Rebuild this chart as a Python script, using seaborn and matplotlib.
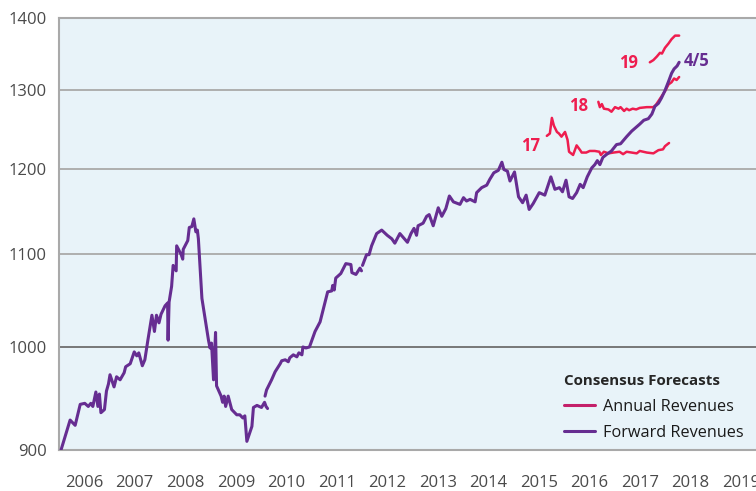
import numpy as np
import pandas as pd
import matplotlib
matplotlib.use("Agg")
import matplotlib.pyplot as plt
from matplotlib.lines import Line2D
from matplotlib.ticker import FixedLocator, NullLocator, FixedFormatter
import seaborn as sns

# Forward revenues (consensus), decimal year vs index level; breaks in the series split into segments
fwd_year_a = [2006.04, 2006.22, 2006.32, 2006.42, 2006.51, 2006.58, 2006.63, 2006.67, 2006.73, 2006.77,
              2006.80, 2006.83, 2006.90, 2006.94, 2006.98, 2007.01, 2007.09, 2007.14, 2007.21, 2007.29,
              2007.32, 2007.41, 2007.49, 2007.54, 2007.58, 2007.65, 2007.70, 2007.76, 2007.84, 2007.89,
              2007.93, 2007.98, 2008.02, 2008.10, 2008.15, 2008.16, 2008.18, 2008.23, 2008.26, 2008.32,
              2008.33, 2008.42, 2008.45, 2008.46, 2008.55, 2008.58, 2008.63, 2008.67, 2008.71, 2008.74,
              2008.76, 2008.83, 2008.96, 2008.99, 2009.02, 2009.06, 2009.10, 2009.12, 2009.21, 2009.24,
              2009.27, 2009.30, 2009.35, 2009.42, 2009.52, 2009.58, 2009.64, 2009.68, 2009.72, 2009.82,
              2009.85, 2009.92, 2010.01, 2010.07, 2010.10, 2010.13]
fwd_val_a = [900, 928, 923, 943, 944, 941, 944, 941, 955, 941,
             953, 935, 938, 956, 963, 972, 960, 970, 967, 974,
             980, 983, 995, 991, 994, 981, 987, 1007, 1033, 1016,
             1033, 1025, 1034, 1043, 1046, 1007, 1047, 1064, 1087, 1081,
             1109, 1099, 1094, 1105, 1115, 1130, 1131, 1140, 1125, 1127,
             1117, 1051, 1007, 999, 1004, 967, 1015, 961, 951, 945,
             951, 941, 951, 938, 933, 933, 930, 932, 908, 922,
             940, 942, 940, 945, 941, 939]

fwd_year_b = [2010.08, 2010.11, 2010.21, 2010.28, 2010.38, 2010.41, 2010.48, 2010.54, 2010.57, 2010.64,
              2010.71, 2010.75, 2010.81, 2010.83, 2010.89, 2010.96, 2011.07, 2011.17, 2011.32, 2011.40,
              2011.42, 2011.45, 2011.48, 2011.58, 2011.68, 2011.78, 2011.80, 2011.88, 2011.96, 2011.99]
fwd_val_b = [951, 957, 967, 975, 983, 986, 987, 985, 989, 992,
             990, 994, 992, 1000, 999, 1000, 1016, 1026, 1058, 1059,
             1065, 1060, 1073, 1078, 1089, 1088, 1079, 1077, 1084, 1081]

fwd_year_c = [2012.01, 2012.09, 2012.14, 2012.19, 2012.29, 2012.39, 2012.50, 2012.59, 2012.65, 2012.75,
              2012.90, 2012.97, 2013.03, 2013.08, 2013.11, 2013.21, 2013.28, 2013.33, 2013.41, 2013.51,
              2013.58, 2013.66, 2013.73, 2013.81, 2013.94, 2014.01, 2014.07, 2014.14, 2014.24, 2014.27,
              2014.37, 2014.47, 2014.53, 2014.61, 2014.70, 2014.77, 2014.81, 2014.88, 2014.93, 2015.02,
              2015.10, 2015.18, 2015.25, 2015.31, 2015.39, 2015.51, 2015.62, 2015.74, 2015.82, 2015.91,
              2015.97, 2016.04, 2016.10, 2016.17, 2016.25, 2016.32, 2016.38, 2016.46, 2016.55, 2016.61,
              2016.66, 2016.71, 2016.77, 2016.85, 2016.94, 2017.04, 2017.12, 2017.24, 2017.34, 2017.50,
              2017.58, 2017.67, 2017.74, 2017.80, 2017.87, 2017.93, 2018.00, 2018.07, 2018.13, 2018.18,
              2018.24, 2018.28]
fwd_val_c = [1087, 1099, 1099, 1109, 1123, 1127, 1121, 1117, 1112, 1123,
             1113, 1123, 1129, 1121, 1132, 1135, 1143, 1145, 1132, 1153,
             1143, 1152, 1167, 1160, 1157, 1165, 1161, 1163, 1160, 1171,
             1177, 1180, 1187, 1195, 1198, 1208, 1199, 1197, 1185, 1196,
             1166, 1159, 1168, 1151, 1158, 1171, 1168, 1190, 1175, 1177,
             1172, 1186, 1166, 1164, 1171, 1181, 1177, 1190, 1201, 1205,
             1210, 1205, 1214, 1218, 1222, 1230, 1231, 1240, 1247, 1256,
             1261, 1263, 1269, 1279, 1283, 1290, 1300, 1312, 1323, 1329,
             1333, 1338]

# Annual revenue forecasts for 2017, 2018, 2019
ann17_year = [2015.66, 2015.72, 2015.76, 2015.80, 2015.86, 2015.90, 2015.95, 2016.02, 2016.07, 2016.10,
              2016.18, 2016.25, 2016.32, 2016.35, 2016.44, 2016.51, 2016.61, 2016.70, 2016.73, 2016.79,
              2016.88, 2016.98, 2017.10, 2017.17, 2017.24, 2017.34, 2017.44, 2017.50, 2017.64, 2017.77,
              2017.87, 2017.96, 2018.00, 2018.08]
ann17_val = [1241, 1244, 1264, 1254, 1246, 1244, 1240, 1246, 1236, 1221,
             1217, 1229, 1223, 1220, 1220, 1222, 1222, 1221, 1217, 1221,
             1219, 1220, 1221, 1218, 1221, 1220, 1219, 1222, 1220, 1219,
             1223, 1224, 1228, 1232]

ann18_year = [2016.68, 2016.71, 2016.75, 2016.79, 2016.88, 2016.94, 2017.01, 2017.08, 2017.12, 2017.19,
              2017.24, 2017.29, 2017.36, 2017.43, 2017.50, 2017.64, 2017.77, 2017.82, 2017.90, 2018.00,
              2018.07, 2018.13, 2018.18, 2018.23, 2018.28]
ann18_val = [1285, 1278, 1282, 1276, 1275, 1272, 1278, 1276, 1278, 1273,
             1276, 1274, 1276, 1275, 1277, 1278, 1278, 1281, 1289, 1299,
             1308, 1311, 1316, 1314, 1318]

ann19_year = [2017.70, 2017.77, 2017.84, 2017.90, 2017.94, 2018.00, 2018.07, 2018.13, 2018.20, 2018.28]
ann19_val = [1338, 1341, 1346, 1351, 1350, 1358, 1364, 1370, 1375, 1375]

year_labels = [str(y) for y in range(2006, 2020)]
y_ticks = [900, 1000, 1100, 1200, 1300, 1400]

purple = "#662d91"
red = "#ee1d4f"
legend_red = "#c4206a"
bg = "#e8f3f9"

fwd = pd.concat([
    pd.DataFrame({"year": fwd_year_a, "value": fwd_val_a, "seg": "a"}),
    pd.DataFrame({"year": fwd_year_b, "value": fwd_val_b, "seg": "b"}),
    pd.DataFrame({"year": fwd_year_c, "value": fwd_val_c, "seg": "c"}),
])
ann = pd.concat([
    pd.DataFrame({"year": ann17_year, "value": ann17_val, "seg": "17"}),
    pd.DataFrame({"year": ann18_year, "value": ann18_val, "seg": "18"}),
    pd.DataFrame({"year": ann19_year, "value": ann19_val, "seg": "19"}),
])

sns.set_style("white")
plt.rcParams["font.family"] = ["Open Sans", "DejaVu Sans"]

fig = plt.figure(figsize=(7.56, 4.91), dpi=100)
ax = fig.add_axes([59 / 756, 41 / 491, 707 / 756, 432 / 491])
ax.set_facecolor(bg)

ax.set_yscale("log")
ax.set_ylim(900, 1400)
ax.set_xlim(2006, 2020)

for v in y_ticks[1:]:
    ax.axhline(v, color="#6e6e6e" if v == 1000 else "#a9a9a9", lw=1.3, zorder=1)

sns.lineplot(data=fwd, x="year", y="value", units="seg", estimator=None,
             color=purple, lw=2.2, ax=ax, zorder=3)
sns.lineplot(data=ann, x="year", y="value", units="seg", estimator=None,
             color=red, lw=1.8, ax=ax, zorder=2)

ax.yaxis.set_major_locator(FixedLocator(y_ticks))
ax.yaxis.set_major_formatter(FixedFormatter([str(v) for v in y_ticks]))
ax.yaxis.set_minor_locator(NullLocator())
ax.set_xticks([y + 0.5 for y in range(2006, 2020)])
ax.set_xticklabels(year_labels)
ax.tick_params(axis="both", length=0, labelsize=12, labelcolor="#4a4a4a")
ax.tick_params(axis="y", pad=9)
ax.tick_params(axis="x", pad=18)
ax.set_xlabel("")
ax.set_ylabel("")

for side in ["left", "bottom", "top"]:
    ax.spines[side].set_color("#a9a9a9")
    ax.spines[side].set_linewidth(1.5)
ax.spines["right"].set_visible(False)

ax.text(2015.33, 1228, "17", color=red, fontsize=12, fontweight="bold", ha="center", va="center")
ax.text(2016.28, 1279, "18", color=red, fontsize=12, fontweight="bold", ha="center", va="center")
ax.text(2017.27, 1337, "19", color=red, fontsize=12, fontweight="bold", ha="center", va="center")
ax.text(2018.63, 1340, "4/5", color=purple, fontsize=12, fontweight="bold", ha="center", va="center")

handles = [Line2D([], [], color=legend_red, lw=2.2), Line2D([], [], color=purple, lw=2.2)]
leg = fig.legend(handles, ["Annual Revenues", "Forward Revenues"], title="Consensus Forecasts",
                 loc="upper left", bbox_to_anchor=(564 / 756, 1 - 374 / 491), frameon=False,
                 fontsize=11.7, handlelength=1.9, handletextpad=0.5, labelspacing=0.65,
                 borderaxespad=0, borderpad=0)
leg.get_title().set_fontweight("bold")
leg.get_title().set_fontsize(10.9)
leg._legend_box.align = "left"
for t in leg.get_texts():
    t.set_color("#1a1a1a")

fig.savefig("out.png", dpi=100)
